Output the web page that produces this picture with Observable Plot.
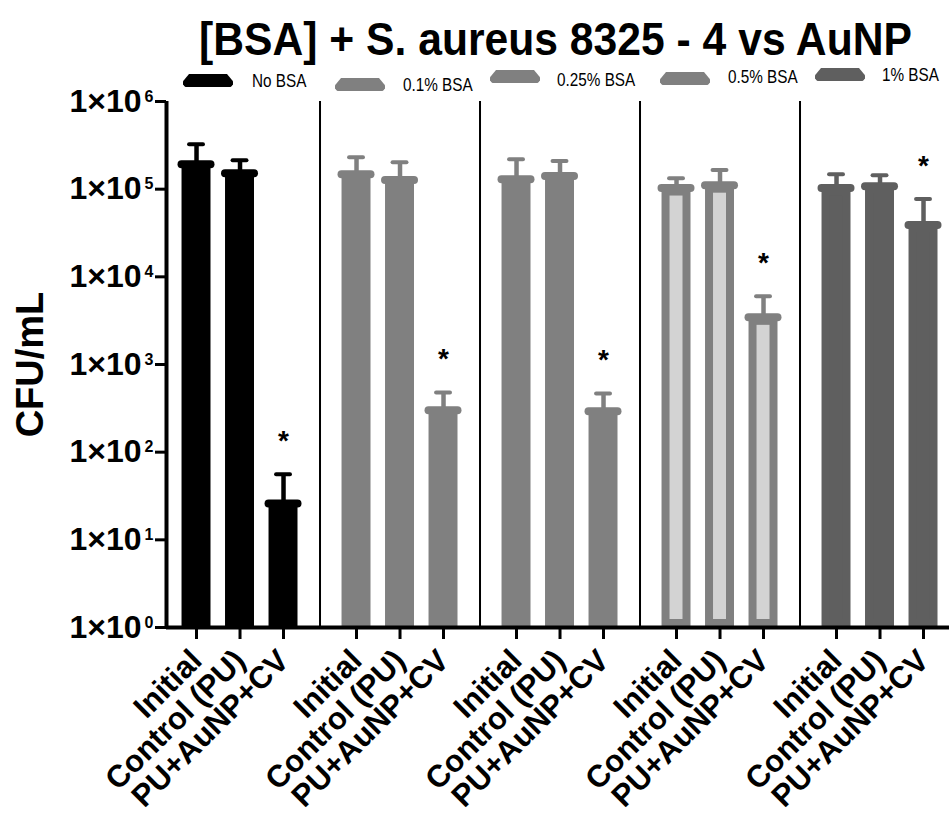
<!DOCTYPE html>
<html>
<head>
<meta charset="utf-8">
<script src="https://cdn.jsdelivr.net/npm/d3@7"></script>
<script src="https://cdn.jsdelivr.net/npm/@observablehq/plot@0.6"></script>
<style>
  html, body { margin: 0; padding: 0; background: #fff; overflow: hidden; }
  #wrap { position: relative; width: 949px; height: 820px; font-family: "Liberation Sans", Arial, sans-serif; }
  #title { position: absolute; left: 199px; top: 16px; font-size: 46px; line-height: 46px; font-weight: bold;
           white-space: nowrap; color: #000; transform: scaleX(0.927); transform-origin: 0 0; }
  .sw { position: absolute; width: 50px; height: 13px;
        clip-path: polygon(12% 0, 88% 0, 100% 55%, 100% 80%, 96% 100%, 4% 100%, 0 80%, 0 55%); border-radius: 3px; }
  .lt { position: absolute; font-family: "Liberation Sans", Arial, sans-serif;
        font-size: 18px; line-height: 18px; white-space: nowrap; color: #000;
        transform: scaleX(0.85); transform-origin: 0 0; }
  #chart { position: absolute; left: 0; top: 92px; }
</style>
</head>
<body>
<div id="wrap">
  <div id="title">[BSA] + S. aureus 8325 - 4 vs AuNP</div>
  <div id="legend"></div>
  <div id="chart"></div>
</div>
<script>
// ---- data ----
const groups = ["No BSA", "0.1% BSA", "0.25% BSA", "0.5% BSA", "1% BSA"];
const treatments = ["Initial", "Control (PU)", "PU+AuNP+CV"];
const means = [
  [193000, 152000, 26],
  [148000, 127000, 300],
  [130000, 141000, 292],
  [103000, 111000, 3450],
  [103000, 108000, 39000]
];
const sds = [
  [132000, 62000, 30],
  [84000, 76000, 180],
  [90000, 68000, 176],
  [30000, 54000, 2550],
  [45000, 36000, 38000]
];
const significant = [
  [false, false, true],
  [false, false, true],
  [false, false, true],
  [false, false, true],
  [false, false, true]
];
const fillColors = ["#000000", "#808080", "#808080", "#d3d3d3", "#5f5f5f"];
const edgeColors = ["#000000", "#808080", "#808080", "#808080", "#5f5f5f"];
const yTicks = [1, 10, 100, 1000, 10000, 100000, 1000000];

// ---- layout ----
const GROUP_STEP = 160 / 43.5;   // group spacing in bar-step units
const HALF_BAR = 0.333;
const HALF_CAP = 0.16;
const X_MIN = -0.69, X_MAX = 17.31;

const data = groups.flatMap((g, gi) => treatments.map((t, ti) => ({
  group: g, treat: t, pos: gi * GROUP_STEP + ti,
  mean: means[gi][ti], top: means[gi][ti] + sds[gi][ti],
  sig: significant[gi][ti], fill: fillColors[gi], edge: edgeColors[gi]
})));
const positions = data.map(d => d.pos);
const labelMap = new Map(data.map(d => [d.pos, d.treat]));
const dividers = groups.slice(1).map((g, i) => (i + 1) * GROUP_STEP - (GROUP_STEP - 2) / 2);

const svg = Plot.plot({
  width: 949, height: 728,
  marginTop: 9, marginBottom: 193, marginLeft: 166, marginRight: 0,
  x: {type: "linear", domain: [X_MIN, X_MAX]},
  y: {type: "log", domain: [1, 1e6]},
  color: {type: "identity"},
  style: {fontFamily: "'Liberation Sans', Arial, sans-serif", background: "white", overflow: "visible", color: "#000"},
  marks: [
    Plot.ruleX(dividers, {x: d => d, strokeWidth: 2}),
    Plot.ruleX(data, {x: "pos", y1: "mean", y2: "top", stroke: "edge", strokeWidth: 4.5}),
    Plot.rect(data, {x1: d => d.pos - HALF_BAR, x2: d => d.pos + HALF_BAR, y1: () => 1, y2: "mean",
      fill: "fill", stroke: "edge", strokeWidth: 8, inset: 4}),
    Plot.ruleY(data, {y: "mean", x1: d => d.pos - HALF_BAR, x2: d => d.pos + HALF_BAR,
      stroke: "edge", strokeWidth: 8, strokeLinecap: "round"}),
    Plot.ruleY(data, {y: "top", x1: d => d.pos - HALF_CAP, x2: d => d.pos + HALF_CAP,
      stroke: "edge", strokeWidth: 4, strokeLinecap: "round"}),
    Plot.text(data.filter(d => d.sig), {x: "pos", y: "top", text: () => "*", dy: -33,
      fontSize: 28, fontWeight: "bold", fill: "#000"}),
    Plot.ruleY([1], {strokeWidth: 4}),
    Plot.ruleX([X_MIN], {strokeWidth: 4}),
    Plot.axisY({ticks: yTicks, tickSize: 11, tickPadding: 2, label: null,
      tickFormat: d => "1×10^" + Math.round(Math.log10(d)),
      fontSize: 32, fontWeight: "bold", strokeWidth: 3}),
    Plot.axisX({ticks: positions, tickFormat: p => labelMap.get(p), tickRotate: -45,
      tickSize: 12, tickPadding: 16, label: null, fontSize: 31, fontWeight: "bold", strokeWidth: 3}),
    Plot.text(["CFU/mL"], {frameAnchor: "left", textAnchor: "middle", rotate: -90, dx: -136,
      fontSize: 38, fontWeight: "bold"})
  ]
});

// superscript exponents on y tick labels
d3.select(svg).selectAll('g[aria-label="y-axis tick label"] text').each(function () {
  const s = this.textContent;
  const parts = s.split("^");
  if (parts.length < 2) return;
  const t = d3.select(this);
  t.text(null);
  t.append("tspan").text(parts[0]);
  t.append("tspan").attr("dx", 3).attr("dy", -10).attr("font-size", 16).text(parts[1]);
});
document.getElementById("chart").appendChild(svg);

// legend (HTML)
const legendLayout = [
  {sx: 183, sy: 74, tx: 252, base: 87},
  {sx: 335, sy: 78, tx: 403, base: 91},
  {sx: 490, sy: 70, tx: 557, base: 86},
  {sx: 660, sy: 72, tx: 728, base: 83},
  {sx: 815, sy: 68, tx: 882, base: 81}
];
const legend = document.getElementById("legend");
groups.forEach((g, i) => {
  const L = legendLayout[i];
  const sw = document.createElement("div");
  sw.className = "sw";
  sw.style.left = L.sx + "px"; sw.style.top = L.sy + "px";
  sw.style.background = edgeColors[i];
  legend.appendChild(sw);
  const tx = document.createElement("div");
  tx.className = "lt";
  tx.style.left = L.tx + "px"; tx.style.top = (L.base - 15.2) + "px";
  tx.textContent = g;
  legend.appendChild(tx);
});
</script>
</body>
</html>
